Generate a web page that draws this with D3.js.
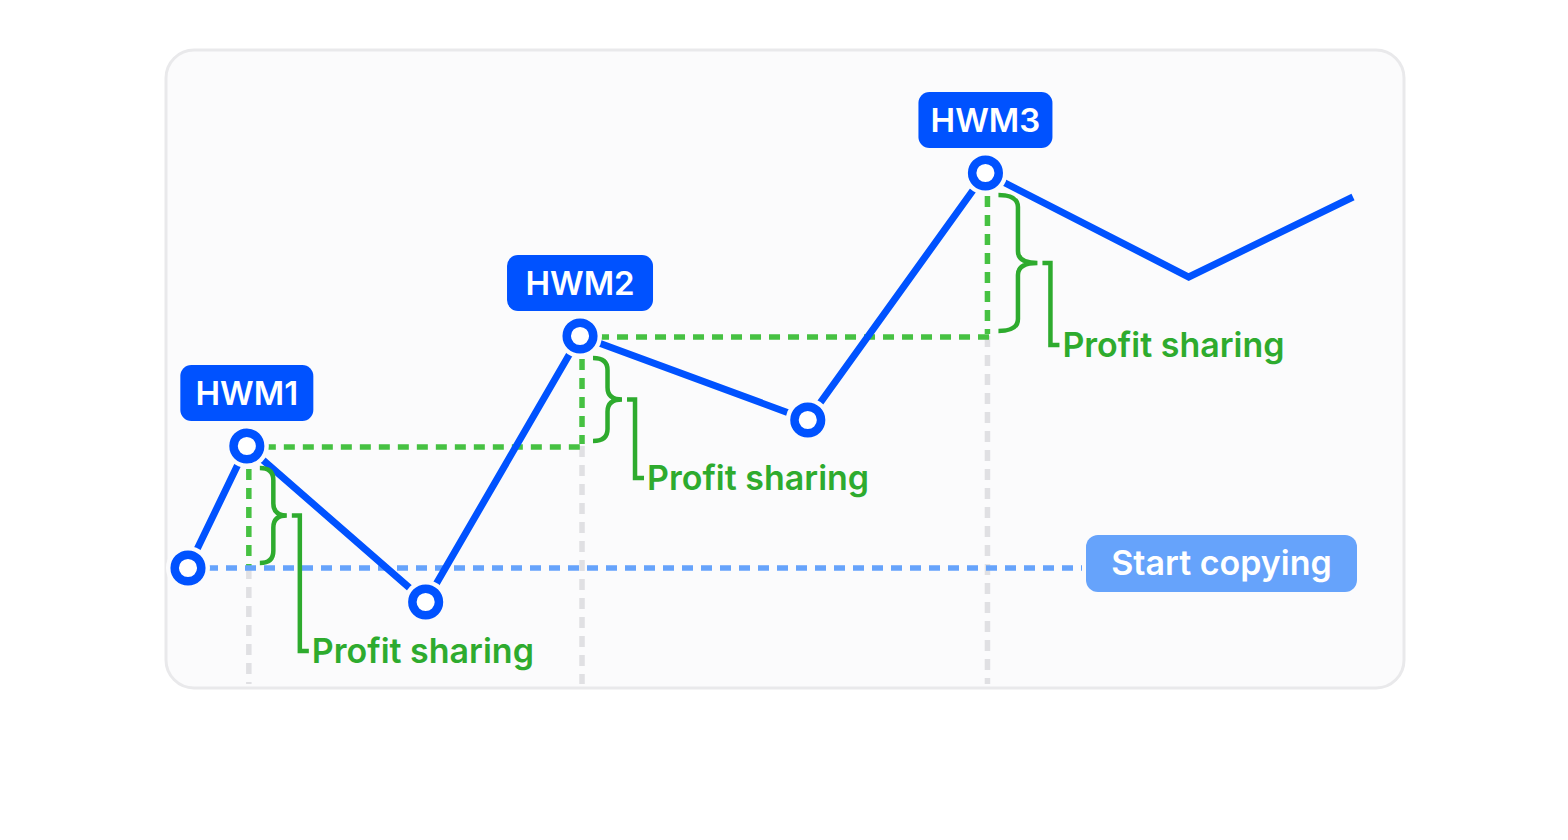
<!DOCTYPE html>
<html>
<head>
<meta charset="utf-8">
<script src="https://cdn.jsdelivr.net/npm/d3@7"></script>
<style>
  body { margin: 0; background: #fff; }
  svg { display: block; font-family: Inter, "Noto Sans", sans-serif; }
</style>
</head>
<body>
<svg id="chart" width="1568" height="840"></svg>
<script>
// equity curve (time units, equity index: start = 100)
var times  = [0, 1.01, 4.08, 6.73, 10.64, 13.69, 17.18, 20];
var equity = [100, 161, 83, 216, 174, 297.5, 245.5, 285.5];
var markerIdx = [0, 1, 2, 3, 4, 5];
var hwmIdx = [1, 3, 5];
var hwmLabels = ["HWM1", "HWM2", "HWM3"];
var startLabel = "Start copying";
var shareLabel = "Profit sharing";

var card = {x: 166, y: 50, w: 1238, h: 638};

var svg = d3.select("#chart");

var x = d3.scaleLinear().domain([0, 20]).range([188, 1353]);
var y = d3.scaleLinear().domain([39.5, 359.5]).range([card.y + card.h + 1, card.y - 1]);

var blue = "#0052ff", lightBlue = "#66a3fb", green = "#2eab2e", greenDash = "#46c142", grey = "#e0e0e3";

svg.append("rect")
  .attr("x", card.x).attr("y", card.y).attr("width", card.w).attr("height", card.h)
  .attr("rx", 28).attr("fill", "#fbfbfc").attr("stroke", "#e9e9eb").attr("stroke-width", 3);

var pts = times.map(function(t, i) { return {x: x(t), y: y(equity[i]), v: equity[i]}; });
var base = y(equity[0]);

// previous level each HWM is measured against
var levels = hwmIdx.map(function(k, j) {
  return j == 0 ? equity[0] : equity[hwmIdx[j - 1]];
});
var braceW = [27, 29, 39];

// grey verticals down to bottom of card
svg.selectAll(".gv").data(hwmIdx).enter().append("line")
  .attr("x1", function(k) { return pts[k].x + 2; })
  .attr("x2", function(k) { return pts[k].x + 2; })
  .attr("y1", function(k, j) { return y(levels[j]); })
  .attr("y2", card.y + card.h - 4)
  .attr("stroke", grey).attr("stroke-width", 5.5).attr("stroke-dasharray", "11,8");

// green verticals
svg.selectAll(".gvert").data(hwmIdx).enter().append("line")
  .attr("x1", function(k) { return pts[k].x + 2; })
  .attr("x2", function(k) { return pts[k].x + 2; })
  .attr("y1", function(k) { return pts[k].y + 4; })
  .attr("y2", function(k, j) { return y(levels[j]) - 2; })
  .attr("stroke", greenDash).attr("stroke-width", 5.5).attr("stroke-dasharray", "11,8");

// green horizontals: HWM level carried to next HWM
svg.selectAll(".ghor").data(hwmIdx.slice(0, 2)).enter().append("line")
  .attr("x1", function(k) { return pts[k].x + 18; })
  .attr("x2", function(k, j) { return pts[hwmIdx[j + 1]].x + 5; })
  .attr("y1", function(k) { return pts[k].y + 1; })
  .attr("y2", function(k) { return pts[k].y + 1; })
  .attr("stroke", greenDash).attr("stroke-width", 5.5).attr("stroke-dasharray", "11,8");

// start line
svg.append("line")
  .attr("x1", pts[0].x).attr("x2", 1082)
  .attr("y1", base).attr("y2", base)
  .attr("stroke", lightBlue).attr("stroke-width", 5.5).attr("stroke-dasharray", "11,8");

// equity line
svg.append("path").datum(pts)
  .attr("d", d3.line().x(function(d) { return d.x; }).y(function(d) { return d.y; }))
  .attr("fill", "none").attr("stroke", blue).attr("stroke-width", 7).attr("stroke-linejoin", "miter");

// markers with halo
svg.selectAll(".halo").data(markerIdx).enter().append("circle")
  .attr("cx", function(i) { return pts[i].x; }).attr("cy", function(i) { return pts[i].y; })
  .attr("r", 22).attr("fill", "#fbfbfc");
svg.selectAll(".dot").data(markerIdx).enter().append("circle")
  .attr("cx", function(i) { return pts[i].x; }).attr("cy", function(i) { return pts[i].y; })
  .attr("r", 13.3).attr("fill", "#fff").attr("stroke", blue).attr("stroke-width", 8.5);

// braces + bracket + label
function brace(x0, top, bot, w) {
  var mid = (top + bot) / 2, h = w / 2, r = 12;
  var p = d3.path();
  p.moveTo(x0, top);
  p.quadraticCurveTo(x0 + h, top, x0 + h, top + r);
  p.lineTo(x0 + h, mid - r);
  p.quadraticCurveTo(x0 + h, mid, x0 + w, mid);
  p.quadraticCurveTo(x0 + h, mid, x0 + h, mid + r);
  p.lineTo(x0 + h, bot - r);
  p.quadraticCurveTo(x0 + h, bot, x0, bot);
  return p.toString();
}

hwmIdx.forEach(function(k, j) {
  var x0 = pts[k].x + 13;
  var top = pts[k].y + 22, bot = y(levels[j]) - 5;
  var mid = (top + bot) / 2;
  var bw = braceW[j];
  svg.append("path").attr("d", brace(x0, top, bot, bw))
    .attr("fill", "none").attr("stroke", green).attr("stroke-width", 4.5);
  var bx = x0 + bw + 13;
  var ty = [651, 478, 345][j];
  svg.append("path")
    .attr("d", "M" + (bx - 8) + "," + mid + "H" + bx + "V" + ty + "H" + (bx + 9))
    .attr("fill", "none").attr("stroke", green).attr("stroke-width", 4.5);
  svg.append("text").attr("x", bx + 12).attr("y", ty + 12)
    .attr("fill", green).attr("font-size", 34).attr("font-weight", 600)
    .text(shareLabel);
});

// HWM tags
hwmIdx.forEach(function(k, j) {
  var cx = pts[k].x, bw = [133, 146, 134][j], bh = 56;
  svg.append("rect").attr("x", cx - bw / 2).attr("y", pts[k].y - 25 - bh)
    .attr("width", bw).attr("height", bh).attr("rx", 11).attr("fill", blue);
  svg.append("text").attr("x", cx).attr("y", pts[k].y - 25 - bh / 2 + 12)
    .attr("text-anchor", "middle").attr("fill", "#fff")
    .attr("font-size", 33).attr("font-weight", 600).text(hwmLabels[j]);
});

// start tag
svg.append("rect").attr("x", 1086).attr("y", base - 33).attr("width", 271).attr("height", 57)
  .attr("rx", 12).attr("fill", lightBlue);
svg.append("text").attr("x", 1221.5).attr("y", base + 7)
  .attr("text-anchor", "middle").attr("fill", "#fff")
  .attr("font-size", 34).attr("font-weight", 600).text(startLabel);
</script>
</body>
</html>
